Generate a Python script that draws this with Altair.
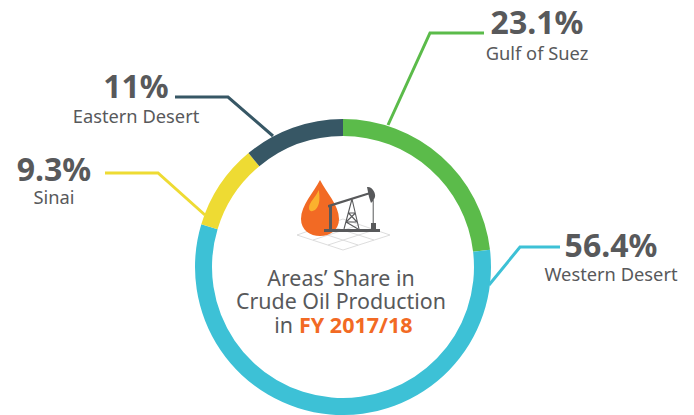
import altair as alt
import pandas as pd

areas = ["Gulf of Suez", "Western Desert", "Sinai", "Eastern Desert"]
shares = [23.1, 56.4, 9.3, 11.0]
share_labels = ["23.1%", "56.4%", "9.3%", "11%"]
colors = ["#5BBB4A", "#3DC1D6", "#EEDB33", "#375765"]
title_lines = ["Areas’ Share in", "Crude Oil Production"]
title_prefix = "in"
title_year = "FY 2017/18"

TEXT = "#58595B"
FONT = "Noto Sans"
OFF = 8  # page margin: layout below is in window pixels

df = pd.DataFrame({"area": areas, "share": shares, "rank": range(len(areas))})

arc = alt.Chart(df).mark_arc(radius=148, radius2=131).encode(
    theta=alt.Theta("share:Q", stack=True, scale=alt.Scale(domain=[0, sum(shares)])),
    order=alt.Order("rank:Q"),
    color=alt.Color("area:N", scale=alt.Scale(domain=areas, range=colors), legend=None),
    x=alt.value(343 - OFF),
    y=alt.value(267 - OFF),
)


def text(s, x, y, size, color=TEXT, weight="normal", align="center"):
    return alt.Chart(pd.DataFrame({"t": [s]})).mark_text(
        font=FONT, fontSize=size, fontWeight=weight, color=color, align=align, baseline="alphabetic"
    ).encode(text="t:N", x=alt.value(x - OFF), y=alt.value(y - OFF))


def shape(path, fill=None, stroke=None, sw=1.0):
    kw = dict(shape=path, size=4, opacity=1)
    if fill:
        kw.update(filled=True, fill=fill, stroke=None, strokeWidth=0)
    else:
        kw.update(filled=False, stroke=stroke, strokeWidth=sw, fillOpacity=0)
    return alt.Chart(pd.DataFrame({"a": [0]})).mark_point(**kw).encode(
        x=alt.value(-OFF), y=alt.value(-OFF)
    )


layers = [arc]

# leader lines
leaders = [
    ("M484 33L430 33L388 125", colors[0]),
    ("M560 247L520 247L489 285", colors[1]),
    ("M105 173L158 173L205 215", colors[2]),
    ("M175 97L228 97L273 136", colors[3]),
]
for p, c in leaders:
    layers.append(shape(p, stroke=c, sw=3))

# labels
label_pos = [(537, 34, 60), (611, 257, 281), (54, 181, 204), (136, 98, 123)]
for a, s, (x, y1, y2) in zip(areas, share_labels, label_pos):
    layers.append(text(s, x, y1, 32, weight="bold"))
    layers.append(text(a, x, y2, 18.3))

# centre title
layers.append(text(title_lines[0], 341, 286, 21.4))
layers.append(text(title_lines[1], 341, 309, 21.4))
layers.append(text(title_prefix, 293, 333, 21.4, align="right"))
layers.append(text(title_year, 299, 333, 21.5, color="#F26A24", weight="bold", align="left"))

# icon: ground grid
grid = "M297 235L343 250L390 235L343 219Z M312 230L358 245 M327 225L374 240 M313 240L359 225 M328 245L374 230"
layers.append(shape(grid, stroke="#D4D4D4", sw=0.8))
# drop
drop = "M320 180C326 192 339 205 339 219C339 230 330 236 320 236C310 236 301 230 301 219C301 205 314 192 320 180Z"
layers.append(shape(drop, fill="#F26A24"))
high = "M318.7 190C320 197 320 205 316 209C313 212 309 212 309 208C309 202 316 197 318.7 190Z"
layers.append(shape(high, fill="#FBB12E"))
# pump jack
jack = (
    "M324 229L380 229L380 232L324 232Z "
    "M329 205L332 205L332 229L329 229Z "
    "M328 205L370 192L370.5 194L328 207.5Z "
    "M367 187C372 186 376 193 375 197C374 200 372 202 371 203L369 197Z "
    "M372.7 200L373.7 200L373.7 224L372.7 224Z "
    "M371 223L376 223L376 229L371 229Z"
)
layers.append(shape(jack, fill=TEXT))
derrick = "M352 199L344 229 M352 199L359 229 M348.5 213L355.5 213 M348.5 213L357 222 M355.5 213L346 222 M346 222L357 222 M346 222L358 229"
layers.append(shape(derrick, stroke=TEXT, sw=1.1))

chart = alt.layer(*layers).properties(
    width=678, height=407, padding=0, autosize=alt.AutoSizeParams(type="none"), background="white"
).configure_view(stroke=None)

chart.save("out.html", embed_options={"renderer": "svg", "actions": False})
